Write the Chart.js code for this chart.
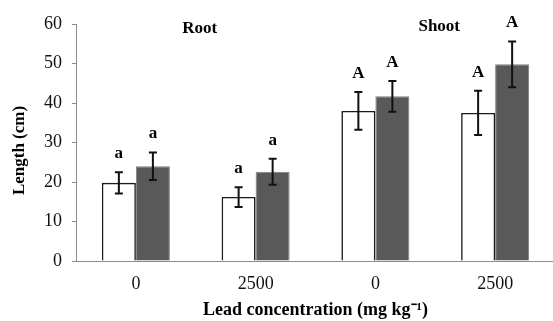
<!DOCTYPE html>
<html>
<head>
<meta charset="utf-8">
<script src="https://cdn.jsdelivr.net/npm/chart.js@4/dist/chart.umd.min.js"></script>
<style>
  html, body { margin: 0; padding: 0; background: #fff; overflow: hidden; }
  #wrap { width: 555px; height: 321px; }
</style>
</head>
<body>
<div id="wrap"><canvas id="lengthChart" width="555" height="321"></canvas></div>
<script>
// Lead concentration categories (root pair, then shoot pair)
const categories = ['0', '2500', '0', '2500'];
const groupLabels = ['Root', 'Shoot'];

// Means and error (+/-) for the two series
const whiteMeans = [19.8, 16.2, 38.0, 37.5];
const whiteErr = [2.7, 2.5, 4.8, 5.6];
const greyMeans = [24.0, 22.6, 41.7, 49.8];
const greyErr = [3.5, 3.3, 3.9, 5.8];

// Significance letters above each bar
const whiteLetters = ['a', 'a', 'A', 'A'];
const greyLetters = ['a', 'a', 'A', 'A'];

const yTicks = [0, 10, 20, 30, 40, 50, 60];

const serif = '"Liberation Serif", "Times New Roman", serif';

// Error bars, letters, group labels and the y title
const annotate = {
  id: 'annotate',
  afterDatasetsDraw(chart) {
    const ctx = chart.ctx;
    const y = chart.scales.y;
    const x = chart.scales.x;
    const errs = [whiteErr, greyErr];
    const letters = [whiteLetters, greyLetters];

    ctx.save();
    chart.data.datasets.forEach((ds, di) => {
      const meta = chart.getDatasetMeta(di);
      meta.data.forEach((bar, i) => {
        const v = ds.data[i];
        const e = errs[di][i];
        const yTop = y.getPixelForValue(v + e);
        const yBot = y.getPixelForValue(v - e);
        ctx.strokeStyle = '#111';
        ctx.lineWidth = 2;
        ctx.beginPath();
        ctx.moveTo(bar.x, yTop);
        ctx.lineTo(bar.x, yBot);
        ctx.moveTo(bar.x - 4, yTop);
        ctx.lineTo(bar.x + 4, yTop);
        ctx.moveTo(bar.x - 4, yBot);
        ctx.lineTo(bar.x + 4, yBot);
        ctx.stroke();

        ctx.fillStyle = '#000';
        ctx.font = 'bold 17px ' + serif;
        ctx.textAlign = 'center';
        ctx.textBaseline = 'alphabetic';
        ctx.fillText(letters[di][i], bar.x, yTop - 14);
      });
    });

    // group labels centred over each pair of categories
    ctx.font = 'bold 17px ' + serif;
    ctx.textAlign = 'center';
    ctx.textBaseline = 'middle';
    groupLabels.forEach((g, gi) => {
      const cx = (x.getPixelForValue(gi * 2) + x.getPixelForValue(gi * 2 + 1)) / 2 + 4;
      ctx.fillText(g, cx, y.getPixelForValue(59) + (gi ? -1 : 1));
    });

    // y axis title
    ctx.font = 'bold 17px ' + serif;
    ctx.translate(20, (chart.chartArea.top + chart.chartArea.bottom) / 2 + 8);
    ctx.rotate(-Math.PI / 2);
    ctx.fillText('Length (cm)', 0, 0);
    ctx.restore();
  }
};

new Chart(document.getElementById('lengthChart'), {
  type: 'bar',
  data: {
    labels: categories,
    datasets: [
      {
        label: 'Control',
        data: whiteMeans,
        backgroundColor: '#ffffff',
        borderColor: '#1a1a1a',
        borderWidth: 1.6
      },
      {
        label: 'Treated',
        data: greyMeans,
        backgroundColor: '#595959',
        borderColor: '#7f7f7f',
        borderWidth: 1
      }
    ]
  },
  options: {
    responsive: false,
    animation: false,
    devicePixelRatio: 1,
    layout: { padding: { top: 24, right: 0, bottom: 0, left: 0 } },
    datasets: {
      bar: { barPercentage: 1, categoryPercentage: 0.568 }
    },
    plugins: {
      legend: { display: false },
      tooltip: { enabled: false }
    },
    scales: {
      x: {
        grid: { display: false, drawTicks: false },
        border: { display: true, color: '#8c8c8c', width: 1 },
        ticks: {
          color: '#111',
          padding: 12,
          font: { family: serif, size: 18 }
        },
        title: {
          display: true,
          text: 'Lead concentration (mg kg\u207B\u00B9)',
          color: '#000',
          padding: { top: 0, bottom: 0 },
          font: { family: serif, size: 18, weight: 'bold' }
        },
        afterFit(scale) { scale.height = 60; }
      },
      y: {
        min: 0,
        max: 60,
        afterBuildTicks(scale) { scale.ticks = yTicks.map(v => ({ value: v })); },
        grid: { drawOnChartArea: false, drawTicks: true, tickLength: 4, color: '#8c8c8c' },
        border: { display: true, color: '#8c8c8c', width: 1 },
        ticks: {
          color: '#111',
          padding: 10,
          font: { family: serif, size: 18 }
        },
        afterFit(scale) { scale.width = 76; }
      }
    }
  },
  plugins: [annotate]
});
</script>
</body>
</html>
